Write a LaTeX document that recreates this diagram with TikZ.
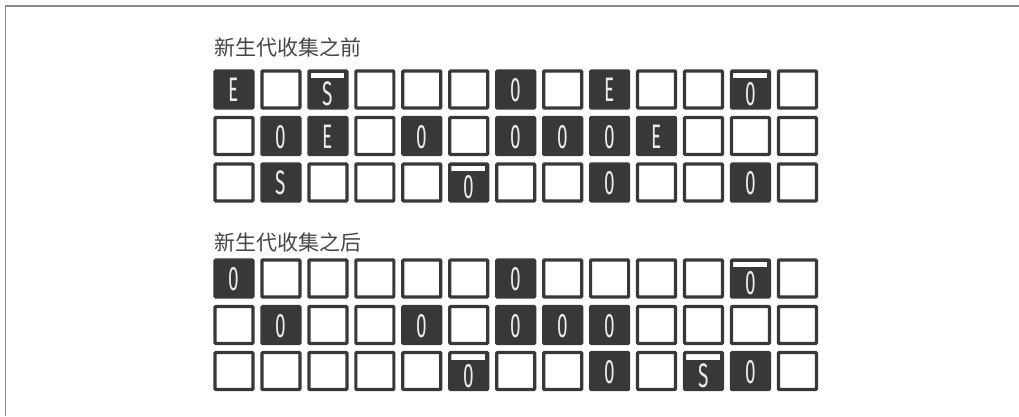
\documentclass[tikz,border=0pt]{standalone}
\usepackage{fontspec}
\newfontfamily\cjk{Noto Sans CJK SC}
\newfontfamily\cellfont[FakeStretch=0.56]{Fira Sans}
\definecolor{ink}{HTML}{383838}
\definecolor{framecol}{HTML}{8A8A8A}
\definecolor{titlecol}{HTML}{454545}
\newcommand\cellrow[3]{%
  \foreach \t/\s [count=\i from 0] in {#3} {
    \node[\s] (#1-\i) at ({234+46.95*\i},{#2+20}) {\t};
  }}
\begin{document}
\begin{tikzpicture}[x=1pt,y=-1pt,
  cell/.style={rectangle, minimum width=38pt, minimum height=37pt, inner sep=0pt,
    outer sep=0pt, line width=3.2pt, rounded corners=0.8pt, draw=ink,
    text height=24pt, text depth=0pt, font=\cellfont\fontsize{34}{34}\selectfont},
  lt/.style={cell, fill=white},
  dk/.style={cell, fill=ink, text=white!92!black},
  dkb/.style={dk, text height=32pt,
    path picture={\fill[white, sharp corners] ([shift={(1.6pt,-1.6pt)}]path picture bounding box.north west)
      rectangle ([shift={(-2.6pt,-7.2pt)}]path picture bounding box.north east);}},
  title/.style={anchor=west, inner sep=0pt, text=titlecol, font=\cjk\fontsize{21}{21}\selectfont}
]
\useasboundingbox (0,0) rectangle (1019,416);
% frame
\coordinate (fbl) at (5.5,416);
\coordinate (ftl) at (5.5,6);
\coordinate (ftr) at (1019,6);
\draw[framecol, line width=1.5pt] (fbl) -- (ftl) -- (ftr);

% before
\node[title] (tbefore) at (214,47) {新生代收集之前};
\cellrow{b1}{69.5}{E/dk, {}/lt, S/dkb, {}/lt, {}/lt, {}/lt, 0/dk, {}/lt, E/dk, {}/lt, {}/lt, 0/dkb, {}/lt}
\cellrow{b2}{116}{{}/lt, 0/dk, E/dk, {}/lt, 0/dk, {}/lt, 0/dk, 0/dk, 0/dk, E/dk, {}/lt, {}/lt, {}/lt}
\cellrow{b3}{162.5}{{}/lt, S/dk, {}/lt, {}/lt, {}/lt, 0/dkb, {}/lt, {}/lt, 0/dk, {}/lt, {}/lt, 0/dk, {}/lt}

% after
\node[title] (tafter) at (214,242) {新生代收集之后};
\cellrow{a1}{258.5}{0/dk, {}/lt, {}/lt, {}/lt, {}/lt, {}/lt, 0/dk, {}/lt, {}/lt, {}/lt, {}/lt, 0/dkb, {}/lt}
\cellrow{a2}{305}{{}/lt, 0/dk, {}/lt, {}/lt, 0/dk, {}/lt, 0/dk, 0/dk, 0/dk, {}/lt, {}/lt, {}/lt, {}/lt}
\cellrow{a3}{351}{{}/lt, {}/lt, {}/lt, {}/lt, {}/lt, 0/dkb, {}/lt, {}/lt, 0/dk, {}/lt, S/dkb, 0/dk, {}/lt}
\end{tikzpicture}
\end{document}
